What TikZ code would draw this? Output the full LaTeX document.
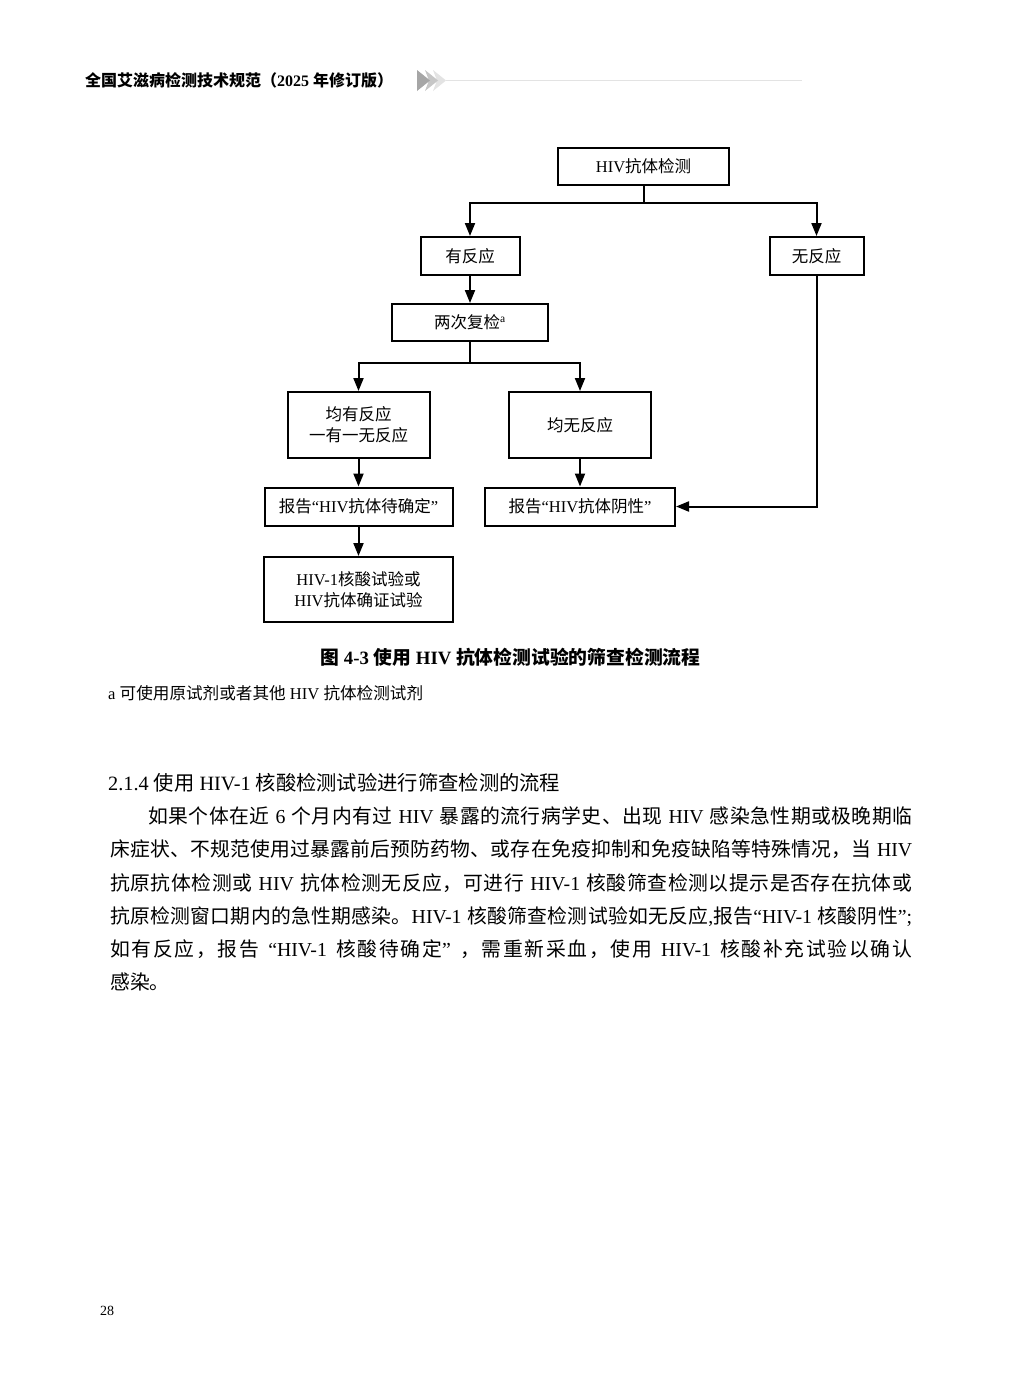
\documentclass[tikz,border=0pt]{standalone}
\usepackage{fontspec}
\setmainfont{Liberation Serif}
\newfontfamily\cjk{Noto Sans CJK SC}
\newfontfamily\latin{Liberation Serif}
\usetikzlibrary{arrows.meta}
\XeTeXinterchartokenstate=1
\newXeTeXintercharclass\cjkcls
\newcount\cjkcc
\def\setcls#1#2#3{\cjkcc=#1\relax\loop\XeTeXcharclass\cjkcc=#3\relax\advance\cjkcc by 1\relax\ifnum\cjkcc<#2\relax\repeat}
\setcls{"21}{"7F}{0}
\setcls{"2000}{"2070}{0}
\setcls{"4E00}{"A000}{\cjkcls}
\setcls{"3000}{"3040}{\cjkcls}
\setcls{"FF00}{"FFF0}{\cjkcls}
\XeTeXinterchartoks 0 \cjkcls = {\cjk}
\XeTeXinterchartoks 4095 \cjkcls = {\cjk}
\XeTeXinterchartoks \cjkcls 0 = {\latin}
\XeTeXinterchartoks \cjkcls 4095 = {\latin}
\XeTeXinterchartoks 4095 0 = {\latin}
\XeTeXinterchartoks \cjkcls \cjkcls = {\hskip0pt plus 1pt\relax}
\begin{document}
\begin{tikzpicture}[x=1pt,y=-1pt,
  bx/.style={draw, line width=2pt, inner sep=0pt, align=center, font=\fontsize{16.5}{21}\selectfont},
  ln/.style={line width=2pt},
  arr/.style={line width=2pt, -{Triangle[length=13pt,width=10pt]}},
  body/.style={inner sep=0pt, anchor=base west, font=\fontsize{19.8}{24}\selectfont}]
\useasboundingbox (0,0) rectangle (1022,1376);
\fill[white] (0,0) rectangle (1022,1376);
% header
\node[inner sep=0pt, anchor=base west, font=\fontsize{16}{20}\selectfont\bfseries] (hdr) at (85,86) {全国艾滋病检测技术规范（2025 年修订版）};
\fill[gray!22] (433,70) -- (446,80.5) -- (433,91) -- (437,80.5) -- cycle;
\fill[gray!45] (425,70) -- (438,80.5) -- (425,91) -- (429,80.5) -- cycle;
\fill[gray!70] (417,70) -- (430,80.5) -- (417,91) -- cycle;
\draw[gray!22, line width=1pt] (446,80.5) -- (802,80.5);
% flowchart
\node[bx, minimum width=171pt, minimum height=37pt] (top) at (643.5,166.5) {HIV抗体检测};
\node[bx, minimum width=99pt, minimum height=38pt] (yes) at (470,256) {有反应};
\node[bx, minimum width=94pt, minimum height=38pt] (no) at (816.5,256) {无反应};
\node[bx, minimum width=156pt, minimum height=37pt] (re) at (470,322.5) {两次复检\textsuperscript{a}};
\node[bx, minimum width=142pt, minimum height=66pt] (ay) at (358.5,425) {均有反应\\一有一无反应};
\node[bx, minimum width=142pt, minimum height=66pt] (an) at (580,425) {均无反应};
\node[bx, minimum width=188pt, minimum height=38pt] (pd) at (358.5,506.5) {报告“HIV抗体待确定”};
\node[bx, minimum width=190pt, minimum height=38pt] (ng) at (580,506.5) {报告“HIV抗体阴性”};
\node[bx, minimum width=189pt, minimum height=65pt] (cf) at (358.5,589.5) {HIV-1核酸试验或\\HIV抗体确证试验};
\coordinate (j1) at (643.5,203);
\draw[ln] (top.south) -- (j1);
\draw[arr] (j1) -| (yes.north);
\draw[arr] (j1) -| (no.north);
\draw[arr] (yes) -- (re);
\coordinate (j2) at (470,363);
\draw[ln] (re.south) -- (j2);
\draw[arr] (j2) -| (ay.north);
\draw[arr] (j2) -| (an.north);
\draw[arr] (ay) -- (pd);
\draw[arr] (an) -- (ng);
\draw[arr] (pd) -- (cf);
\draw[arr] (no.south) |- (ng.east);
% caption and note
\node[inner sep=0pt, anchor=base, font=\fontsize{18.8}{24}\selectfont\bfseries] (cap) at (510.5,664) {图 4-3 使用 HIV 抗体检测试验的筛查检测流程};
\node[inner sep=0pt, anchor=base west, font=\fontsize{16.6}{20}\selectfont] (fn) at (108,699) {a 可使用原试剂或者其他 HIV 抗体检测试剂};
% body
\node[body, font=\fontsize{20.3}{24}\selectfont] (h) at (108,790.5) {2.1.4 使用 HIV-1 核酸检测试验进行筛查检测的流程};
\node[body] (l1) at (148,823.5) {\makebox[764pt][s]{如果个体在近 6 个月内有过 HIV 暴露的流行病学史、出现 HIV 感染急性期或极晚期临}};
\node[body] (l2) at (110,856.5) {\makebox[802pt][s]{床症状、不规范使用过暴露前后预防药物、或存在免疫抑制和免疫缺陷等特殊情况，当 HIV}};
\node[body] (l3) at (110,890.5) {\makebox[802pt][s]{抗原抗体检测或 HIV 抗体检测无反应，可进行 HIV-1 核酸筛查检测以提示是否存在抗体或}};
\node[body] (l4) at (110,923.5) {\makebox[802pt][s]{抗原检测窗口期内的急性期感染。HIV-1 核酸筛查检测试验如无反应,报告“HIV-1 核酸阴性”;}};
\node[body] (l5) at (110,956.5) {\makebox[802pt][s]{如有反应，报告 “HIV-1 核酸待确定” ，需重新采血，使用 HIV-1 核酸补充试验以确认}};
\node[body] (l6) at (110,989.5) {感染。};
\node[inner sep=0pt, anchor=base west, font=\fontsize{14}{16}\selectfont] (pg) at (100,1315) {28};
\end{tikzpicture}
\end{document}
